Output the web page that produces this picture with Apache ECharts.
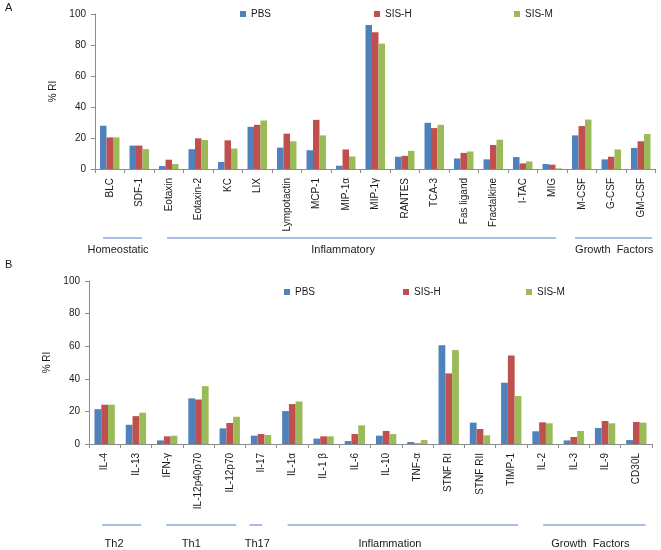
<!DOCTYPE html>
<html>
<head>
<meta charset="utf-8">
<script src="https://cdn.jsdelivr.net/npm/echarts@6/dist/echarts.min.js"></script>
<style>html,body{margin:0;padding:0;background:#fff;}#c{width:661px;height:550px;}</style>
</head>
<body>
<div id="c"></div>
<script>
// ---- Data ----
const seriesNames = ['PBS', 'SIS-H', 'SIS-M'];

const categoriesA = ['BLC','SDF-1','Eotaxin','Eotaxin-2','KC','LIX','Lympotactin','MCP-1','MIP-1α','MIP-1γ','RANTES','TCA-3','Fas ligand','Fractalkine','I-TAC','MIG','M-CSF','G-CSF','GM-CSF'];
const pbsA  = [27.9, 15.1, 1.9, 12.8, 4.5, 27.2, 13.8, 12.1, 2.1, 92.9, 7.9, 29.8, 6.8, 6.2, 7.7, 3.2, 21.7, 6.2, 13.6];
const sisHA = [20.4, 15.1, 6.0, 19.8, 18.5, 28.5, 22.8, 31.7, 12.6, 88.2, 8.5, 26.4, 10.4, 15.5, 3.6, 2.8, 27.7, 7.9, 17.9];
const sisMA = [20.4, 12.8, 3.2, 18.7, 13.2, 31.3, 17.9, 21.7, 8.1, 80.9, 11.7, 28.5, 11.3, 18.9, 4.9, 0.4, 31.9, 12.6, 22.6];
const groupsA = ['Homeostatic', 'Inflammatory', 'Growth  Factors'];

const categoriesB = ['IL-4','IL-13','IFN-γ','IL-12p40p70','IL-12p70','Il-17','IL-1α','IL-1 β','IL-6','IL-10','TNF-α','STNF RI','STNF RII','TIMP-1','IL-2','IL-3','IL-9','CD30L'];
const pbsB  = [21.4, 11.8, 2.2, 28.0, 9.6, 5.1, 20.2, 3.3, 1.8, 5.1, 1.2, 60.6, 13.1, 37.6, 7.8, 2.2, 9.8, 2.4];
const sisHB = [24.1, 17.1, 4.7, 27.3, 12.9, 6.1, 24.5, 4.7, 6.1, 8.0, 0.4, 43.3, 9.2, 54.3, 13.3, 4.3, 14.1, 13.5];
const sisMB = [24.1, 19.2, 5.1, 35.5, 16.7, 5.5, 26.1, 4.7, 11.4, 6.1, 2.4, 57.6, 5.3, 29.4, 12.7, 8.0, 12.7, 13.1];
const groupsB = ['Th2', 'Th1', 'Th17', 'Inflammation', 'Growth  Factors'];

const yMin = 0, yMax = 100, yStep = 20;
const yTitle = '% RI';
const panelLabels = ['A', 'B'];

// ---- Style / layout ----
const colors = ['#4F81BD', '#C0504D', '#9BBB59'];
const FONT = '"Liberation Sans", Arial, sans-serif';
const axisGray = '#8c8c8c';
const textColor = '#1a1a1a';
const groupLineColor = '#8aa9d6';

// group annotation extents in category units (relative to category index)
const groupLayoutA = [
  {line: [-0.23, 1.09], label: 0.28},
  {line: [1.94, 15.13], label: 7.91},
  {line: [15.77, 18.38], label: 17.1}
];
const groupLayoutB = [
  {line: [-0.08, 1.17], label: 0.3},
  {line: [1.97, 4.21], label: 2.77},
  {line: [4.63, 5.04], label: 4.88},
  {line: [5.85, 13.22], label: 9.12},
  {line: [14.02, 17.29], label: 15.53}
];

function xAxisCfg(cats, gridIndex) {
  return {
    type: 'category', data: cats, gridIndex: gridIndex,
    axisLine: {lineStyle: {color: axisGray, width: 1}},
    axisTick: {show: true, length: 4, lineStyle: {color: axisGray}},
    axisLabel: {rotate: 90, interval: 0, fontSize: 10, fontFamily: FONT, color: textColor, margin: 9}
  };
}
function yAxisCfg(gridIndex) {
  return {
    type: 'value', gridIndex: gridIndex, min: yMin, max: yMax, interval: yStep,
    name: yTitle, nameLocation: 'middle', nameRotate: 90, nameGap: 35,
    nameTextStyle: {fontSize: 10, fontFamily: FONT, color: textColor},
    axisLine: {show: true, lineStyle: {color: axisGray, width: 1}},
    axisTick: {show: true, length: 4, lineStyle: {color: axisGray}},
    splitLine: {show: false},
    axisLabel: {fontSize: 10, fontFamily: FONT, color: textColor, margin: 9}
  };
}
function barSeries(name, data, idx, axisIndex, gap) {
  return {
    type: 'bar', name: name, data: data,
    xAxisIndex: axisIndex, yAxisIndex: axisIndex,
    itemStyle: {color: colors[idx]},
    barGap: '0%', barCategoryGap: gap,
    animation: false
  };
}
function legendCfg(name, left, top) {
  return {
    data: [name], left: left, top: top, padding: 0,
    icon: 'rect', itemWidth: 6, itemHeight: 6,
    textStyle: {fontSize: 10, fontFamily: FONT, color: textColor}
  };
}

const chart = echarts.init(document.getElementById('c'), null, {renderer: 'canvas'});
chart.setOption({
  animation: false,
  backgroundColor: '#fff',
  color: colors,
  grid: [
    {left: 95, top: 14, width: 560.5, height: 155},
    {left: 89, top: 281, width: 563, height: 163}
  ],
  xAxis: [xAxisCfg(categoriesA, 0), xAxisCfg(categoriesB, 1)],
  yAxis: [yAxisCfg(0), yAxisCfg(1)],
  legend: [
    legendCfg(seriesNames[0], 240, 9),
    legendCfg(seriesNames[1], 374, 9),
    legendCfg(seriesNames[2], 514, 9),
    legendCfg(seriesNames[0], 284, 287),
    legendCfg(seriesNames[1], 403, 287),
    legendCfg(seriesNames[2], 526, 287)
  ],
  series: [
    barSeries(seriesNames[0], pbsA, 0, 0, '34%'),
    barSeries(seriesNames[1], sisHA, 1, 0, '34%'),
    barSeries(seriesNames[2], sisMA, 2, 0, '34%'),
    barSeries(seriesNames[0], pbsB, 0, 1, '35%'),
    barSeries(seriesNames[1], sisHB, 1, 1, '35%'),
    barSeries(seriesNames[2], sisMB, 2, 1, '35%')
  ]
});

function catPos(axisIndex, cats, pos) {
  const c0 = chart.convertToPixel({xAxisIndex: axisIndex}, cats[0]);
  const c1 = chart.convertToPixel({xAxisIndex: axisIndex}, cats[1]);
  return c0 + (c1 - c0) * pos;
}
const gfx = [];
function addGroups(axisIndex, cats, names, layout, lineY, labelY) {
  names.forEach((nm, i) => {
    const L = layout[i];
    gfx.push({
      type: 'line', silent: true,
      shape: {x1: catPos(axisIndex, cats, L.line[0]), y1: lineY, x2: catPos(axisIndex, cats, L.line[1]), y2: lineY},
      style: {stroke: groupLineColor, lineWidth: 1.5}
    });
    gfx.push({
      type: 'text', silent: true,
      style: {text: nm, x: catPos(axisIndex, cats, L.label), y: labelY,
        align: 'center', verticalAlign: 'middle', textAlign: 'center', textVerticalAlign: 'middle',
        font: '11px ' + FONT, fill: textColor}
    });
  });
}
addGroups(0, categoriesA, groupsA, groupLayoutA, 238, 250);
addGroups(1, categoriesB, groupsB, groupLayoutB, 525, 544);
gfx.push({type: 'text', silent: true, style: {text: panelLabels[0], x: 5, y: 8, verticalAlign: 'middle', textVerticalAlign: 'middle', font: '11px ' + FONT, fill: textColor}});
gfx.push({type: 'text', silent: true, style: {text: panelLabels[1], x: 5, y: 265, verticalAlign: 'middle', textVerticalAlign: 'middle', font: '11px ' + FONT, fill: textColor}});
chart.setOption({graphic: gfx});
</script>
</body>
</html>
